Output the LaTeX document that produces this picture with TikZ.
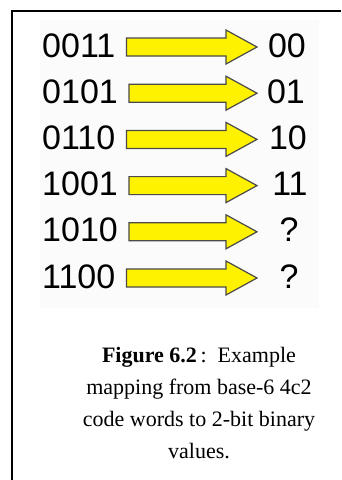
\documentclass[tikz,border=0pt]{standalone}
\usepackage{fontspec}
\setmainfont{Liberation Serif}
\newfontfamily\arialfont{Liberation Sans}
\usetikzlibrary{calc}

\definecolor{arrowedge}{HTML}{4A4A4A}
\definecolor{panelgray}{HTML}{FBFBFB}

\begin{document}
\begin{tikzpicture}[x=1pt, y=-1pt,
    codeword/.style={anchor=base west, inner sep=0pt, font=\arialfont\fontsize{34}{34}\selectfont},
    bitval/.style={anchor=base, inner sep=0pt, font=\arialfont\fontsize{34}{34}\selectfont},
    caption/.style={anchor=base, align=center, inner sep=0pt, font=\fontsize{22}{31.7}\selectfont},
    fatarrow/.style={draw=arrowedge, fill=yellow, line width=1.2pt, line join=miter,
      to path={let \p1=(\tikztostart.east), \p2=(\tikztotarget) in
        (\x1+11pt,\y2+9pt) -- (\x2-31pt,\y2+9pt) -- (\x2-31pt,\y2+17pt) -- (\p2)
        -- (\x2-31pt,\y2-17pt) -- (\x2-31pt,\y2-9pt) -- (\x1+11pt,\y2-9pt) -- cycle}}]
    \useasboundingbox (0,0) rectangle (341,480);

    % Frame and pasted panel
    \draw[line width=2pt] (12,480) -- (12,11) -- (341,11);
    \fill[panelgray] (40,20) rectangle (319,308);

    % Code words (left column)
    \node[codeword] (c1) at (42,57) {0011};
    \node[codeword] (c2) at (42,103.2) {0101};
    \node[codeword] (c3) at (42,149.4) {0110};
    \node[codeword] (c4) at (42,195.6) {1001};
    \node[codeword] (c5) at (42,241.8) {1010};
    \node[codeword] (c6) at (42,288) {1100};

    % Binary values (right column)
    \node[bitval] (v1) at (287,57) {00};
    \node[bitval] (v2) at (286,103.2) {01};
    \node[bitval] (v3) at (288,149.4) {10};
    \node[bitval] (v4) at (290,195.6) {11};
    \node[bitval] (v5) at (289,241.8) {?};
    \node[bitval] (v6) at (289,288) {?};

    % Arrow tips
    \coordinate (t1) at (257,47);
    \coordinate (t2) at (257,93.2);
    \coordinate (t3) at (257,139.4);
    \coordinate (t4) at (257,185.6);
    \coordinate (t5) at (257,231.8);
    \coordinate (t6) at (257,278);

    % Block arrows from each code word
    \draw[fatarrow] (c1) to (t1);
    \draw[fatarrow] (c2) to (t2);
    \draw[fatarrow] (c3) to (t3);
    \draw[fatarrow] (c4) to (t4);
    \draw[fatarrow] (c5) to (t5);
    \draw[fatarrow] (c6) to (t6);

    % Caption (base anchor sits on the last line)
    \node[caption] (cap) at (199,458) {\textbf{Figure 6.2}\,:\ \ Example\\mapping from base-6 4c2\\code words to 2-bit binary\\values.};
\end{tikzpicture}
\end{document}
